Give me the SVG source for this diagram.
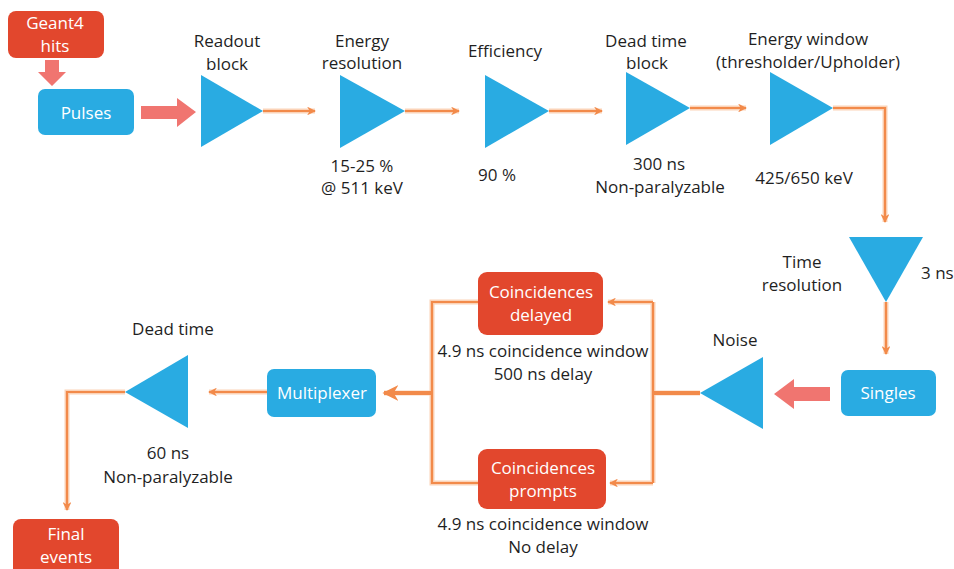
<svg xmlns="http://www.w3.org/2000/svg" width="954" height="569" viewBox="0 0 954 569">
<defs>
<marker id="ah" viewBox="0 0 10 10" refX="9" refY="5" markerWidth="4" markerHeight="4" orient="auto" markerUnits="strokeWidth">
<path d="M0,0 L10,5 L0,10 L3,5 z" fill="#F28A4A"/>
</marker>
<style>
text{font-family:"Open Sans","Liberation Sans",Arial,sans-serif;font-size:17px;fill:#1f1f1f;text-anchor:middle}
.w{fill:#ffffff}
.blue{fill:#29ABE2}
.red{fill:#E2472D}
.tri{fill:#29ABE2}
.fat{fill:#F07570}
.c{fill:none;stroke:#F28A4A;stroke-width:2.2;stroke-linejoin:miter}
.halo{fill:none;stroke:#FBD3B8;stroke-width:5;stroke-linejoin:miter}
.thick{stroke-width:4}
</style>
</defs>
<rect width="954" height="569" fill="#ffffff"/>

<g id="connectors">
<g class="halo">
<path d="M263,111 H315"/><path d="M405,111 H459"/><path d="M549,111 H602"/><path d="M690,108 H746"/>
<path d="M833,108 H885 V222"/><path d="M886,302 V354"/>
<path d="M700,393 H653"/><path d="M653,302 V483"/><path d="M653,302 H608"/><path d="M653,483 H610"/>
<path d="M478,302 H432 V483 H478"/><path d="M432,393 H384"/>
<path d="M267,392 H209"/><path d="M125,392 H67 V510"/>
</g>
<path class="c" d="M263,111 H315" marker-end="url(#ah)"/>
<path class="c" d="M405,111 H459" marker-end="url(#ah)"/>
<path class="c" d="M549,111 H602" marker-end="url(#ah)"/>
<path class="c" d="M690,108 H746" marker-end="url(#ah)"/>
<path class="c" d="M833,108 H885 V222" marker-end="url(#ah)"/>
<path class="c" d="M886,302 V354" marker-end="url(#ah)"/>
<path class="c thick" d="M700,393 H653"/>
<path class="c" d="M653,302 V483"/>
<path class="c" d="M653,302 H608" marker-end="url(#ah)"/>
<path class="c" d="M653,483 H610" marker-end="url(#ah)"/>
<path class="c" d="M478,302 H432 V483 H478"/>
<path class="c thick" d="M432,393 H384" marker-end="url(#ah)"/>
<path class="c" d="M267,392 H209" marker-end="url(#ah)"/>
<path class="c" d="M125,392 H67 V510" marker-end="url(#ah)"/>
<path class="fat" d="M45,60 H59 V72 H66 L52,86 L38,72 H45 z"/>
<path class="fat" d="M141,106 H177 V98 L196,112 L177,127 V119 H141 z"/>
<path class="fat" d="M830,387 H794 V379 L774,394 L794,409 V401 H830 z"/>
</g>

<g id="geant4"><rect class="red" x="8" y="11" width="96" height="47" rx="8"/><text class="w" x="55" y="29">Geant4</text><text class="w" x="55" y="52">hits</text></g>
<g id="pulses"><rect class="blue" x="38" y="89" width="96" height="46" rx="7"/><text class="w" x="86" y="119">Pulses</text></g>

<g id="readout"><path class="tri" d="M201,75 L263,111 L201,147 z"/><text x="227" y="47">Readout</text><text x="227" y="70">block</text></g>
<g id="eres"><path class="tri" d="M340,75 L405,111 L340,148 z"/><text x="362" y="47">Energy</text><text x="362" y="69">resolution</text><text x="362" y="172">15-25 %</text><text x="362" y="194">@ 511 keV</text></g>
<g id="eff"><path class="tri" d="M485,75 L549,111 L485,148 z"/><text x="505" y="57">Efficiency</text><text x="497" y="181">90 %</text></g>
<g id="deadblock"><path class="tri" d="M626,72 L690,108 L626,145 z"/><text x="646" y="47">Dead time</text><text x="647" y="69">block</text><text x="659" y="170">300 ns</text><text x="660" y="193">Non-paralyzable</text></g>
<g id="ewin"><path class="tri" d="M770,72 L833,108 L770,145 z"/><text x="808" y="45">Energy window</text><text x="808" y="68">(thresholder/Upholder)</text><text x="804" y="184">425/650 keV</text></g>
<g id="tres"><path class="tri" d="M849,237 L923,237 L886,302 z"/><text x="802" y="268">Time</text><text x="802" y="291">resolution</text><text x="921" y="279" style="text-anchor:start">3 ns</text></g>
<g id="singles"><rect class="blue" x="841" y="370" width="95" height="46" rx="7"/><text class="w" x="888" y="399">Singles</text></g>
<g id="noise"><path class="tri" d="M763,357 L700,393 L763,429 z"/><text x="735" y="346">Noise</text></g>
<g id="delayed"><rect class="red" x="478" y="272" width="125" height="63" rx="9"/><text class="w" x="541" y="298">Coincidences</text><text class="w" x="541" y="321">delayed</text><text x="543" y="357">4.9 ns coincidence window</text><text x="543" y="380">500 ns delay</text></g>
<g id="prompts"><rect class="red" x="478" y="449" width="128" height="60" rx="9"/><text class="w" x="543" y="474">Coincidences</text><text class="w" x="543" y="497">prompts</text><text x="543" y="530">4.9 ns coincidence window</text><text x="543" y="553">No delay</text></g>
<g id="multiplexer"><rect class="blue" x="267" y="369" width="109" height="48" rx="7"/><text class="w" x="322" y="399">Multiplexer</text></g>
<g id="deadtime"><path class="tri" d="M188,355 L125,392 L188,428 z"/><text x="173" y="335">Dead time</text><text x="168" y="459">60 ns</text><text x="168" y="483">Non-paralyzable</text></g>
<g id="final"><rect class="red" x="13" y="519" width="106" height="60" rx="8"/><text class="w" x="66" y="540">Final</text><text class="w" x="66" y="563">events</text></g>
</svg>
